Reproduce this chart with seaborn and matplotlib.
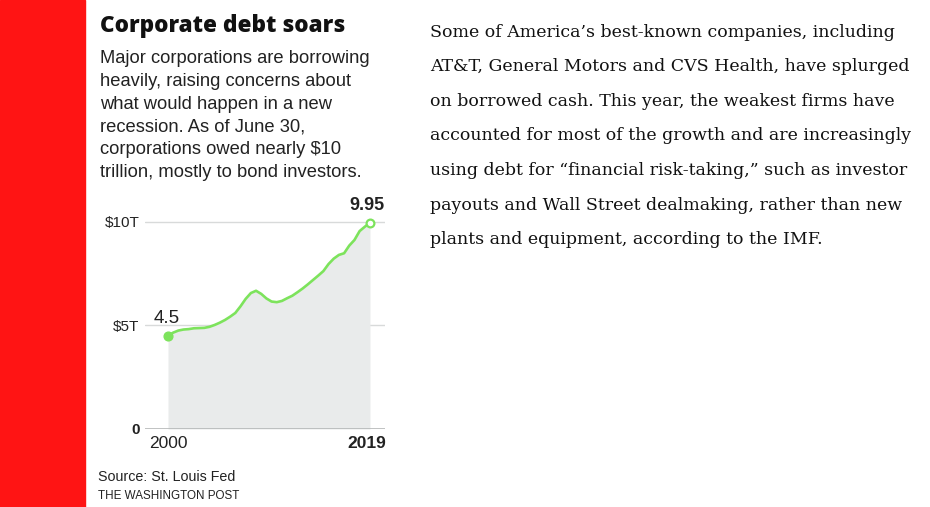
import numpy as np
import pandas as pd
import seaborn as sns
import matplotlib.pyplot as plt
from matplotlib.patches import Rectangle

# corporate debt, trillions of dollars (half-year steps)
years = [2000.0, 2000.5, 2001.0, 2001.5, 2002.0, 2002.5, 2003.0, 2003.5, 2004.0, 2004.5,
         2005.0, 2005.5, 2006.0, 2006.5, 2007.0, 2007.5, 2008.0, 2008.5, 2009.0, 2009.5,
         2010.0, 2010.5, 2011.0, 2011.5, 2012.0, 2012.5, 2013.0, 2013.5, 2014.0, 2014.5,
         2015.0, 2015.5, 2016.0, 2016.5, 2017.0, 2017.5, 2018.0, 2018.5, 2019.0, 2019.5]
debt = [4.50, 4.65, 4.75, 4.80, 4.82, 4.86, 4.87, 4.88, 4.93, 5.02,
        5.13, 5.26, 5.42, 5.60, 5.92, 6.28, 6.56, 6.67, 6.52, 6.30,
        6.15, 6.12, 6.18, 6.31, 6.43, 6.60, 6.78, 6.98, 7.19, 7.40,
        7.62, 7.96, 8.22, 8.40, 8.48, 8.85, 9.12, 9.55, 9.76, 9.95]

ytick_vals = [0, 5, 10]
ytick_labels = ["0", "$5T", "$10T"]
xtick_vals = [2000, 2019.2]
xtick_labels = ["2000", "2019"]

title = "Corporate debt soars"
subtitle = ["Major corporations are borrowing",
            "heavily, raising concerns about",
            "what would happen in a new",
            "recession. As of June 30,",
            "corporations owed nearly $10",
            "trillion, mostly to bond investors."]
body = ["Some of America\u2019s best-known companies, including",
        "AT&T, General Motors and CVS Health, have splurged",
        "on borrowed cash. This year, the weakest firms have",
        "accounted for most of the growth and are increasingly",
        "using debt for \u201cfinancial risk-taking,\u201d such as investor",
        "payouts and Wall Street dealmaking, rather than new",
        "plants and equipment, according to the IMF."]
source = "Source: St. Louis Fed"
credit = "THE WASHINGTON POST"

df = pd.DataFrame({"year": years, "debt": debt})

sns.set_style("white")
plt.rcParams['font.family'] = ['Liberation Sans', 'DejaVu Sans']

W, H = 930, 507
fig = plt.figure(figsize=(W / 100, H / 100), dpi=100)

def fy(py):
    return 1 - py / H

def fx(px):
    return px / W

# red strip on the left
fig.patches.append(Rectangle((0, 0), fx(85), 1, transform=fig.transFigure,
                             color="#ff1414", zorder=0))

ax = fig.add_axes([fx(145), fy(429), fx(385) - fx(145), fy(200) - fy(429)])
green = "#7de35c"
ax.fill_between(df["year"], 0, df["debt"], color="#e9ebeb", lw=0, zorder=1)
sns.lineplot(data=df, x="year", y="debt", ax=ax, color=green, lw=1.9, zorder=3)
ax.plot(years[0], debt[0], "o", color=green, ms=6.3, zorder=4)
ax.plot(years[-1], debt[-1], "o", mfc="white", mec=green, mew=1.6, ms=5.6, zorder=4)

ax.set_xlim(1997.78, 2020.95)
ax.set_ylim(0, 11.05)
for v in ytick_vals[1:]:
    ax.axhline(v, color="#d8dada", lw=1, zorder=0)
ax.axhline(0, color="#b5b8b8", lw=1.2, zorder=2)
sns.despine(ax=ax, left=True, bottom=True, top=True, right=True)

ax.set_yticks(ytick_vals)
ax.set_yticklabels(ytick_labels)
ax.set_xticks(xtick_vals)
ax.set_xticklabels(xtick_labels)
ax.tick_params(axis="y", length=0, pad=4, labelsize=11, labelcolor="#222222")
ax.tick_params(axis="x", length=0, pad=5, labelsize=12.5, labelcolor="#222222")
ax.get_yticklabels()[0].set_fontweight("bold")
ax.get_xticklabels()[1].set_fontweight("bold")
ax.set_xlabel("")
ax.set_ylabel("")

ax.annotate(f"{debt[0]:g}", (years[0], debt[0]), xytext=(-10, 6), textcoords="offset points",
            fontsize=13.5, color="#222222", ha="left", va="bottom")
ax.annotate(f"{debt[-1]:g}", (years[-1], debt[-1]), xytext=(-2, 6), textcoords="offset points",
            fontsize=13, fontweight="bold", color="#222222", ha="center", va="bottom")

fig.text(fx(100), fy(32), title, fontsize=16.2, fontweight=800, family=["Open Sans", "Liberation Sans"],
         color="#111111", va="baseline")
for i, line in enumerate(subtitle):
    fig.text(fx(100), fy(63.3 + i * 22.7), line, fontsize=13.2, color="#222222", va="baseline")

fig.text(fx(98), fy(481), source, fontsize=10.3, color="#222222", va="baseline")
fig.text(fx(98), fy(499), credit, fontsize=8.4, color="#222222", va="baseline")

for i, line in enumerate(body):
    fig.text(fx(430), fy(36.7 + i * 34.6), line, fontsize=12.5, family="DejaVu Serif",
             color="#111111", va="baseline")

fig.savefig("out.png", dpi=100)
